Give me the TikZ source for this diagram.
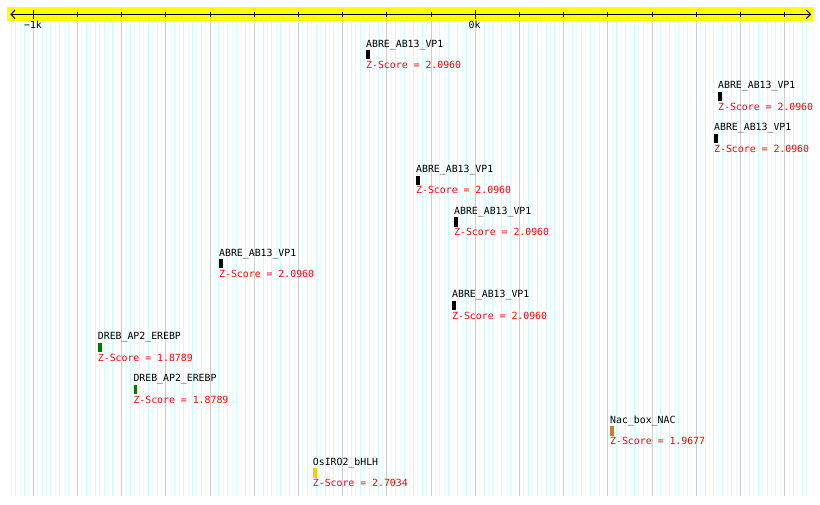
\documentclass[tikz,border=0pt]{standalone}
\usepackage{fontspec}
\newfontfamily\gbfont{DejaVu Sans Mono}
\definecolor{minorA}{HTML}{CCFCFF}
\definecolor{minorB}{HTML}{E4FDFF}
\definecolor{majorgrid}{HTML}{CCCCCC}
\definecolor{band}{HTML}{FFFF00}
\definecolor{dreb}{HTML}{007A00}
\definecolor{nac}{HTML}{CC7A33}
\definecolor{osiro}{HTML}{FFCC00}
\begin{document}
\begin{tikzpicture}[x=1pt,y=-1pt,
  txt/.style={font=\gbfont\fontsize{9.85}{11}\selectfont, inner sep=0pt},
  lbl/.style={txt, anchor=base west},
  zs/.style={txt, anchor=base west, text=red},
  barbox/.style={draw=none, inner sep=0pt, minimum height=9.3pt, anchor=north west},
  minorline/.style={line width=1pt},
  majorline/.style={line width=1pt, majorgrid},
  axisline/.style={line width=1pt, black}]
\useasboundingbox (0,0) rectangle (820,505);
\fill[white] (0,0) rectangle (820,505);
% grid
\foreach \i in {0,2,...,180}{
  \draw[minorline, minorB] ({11.2+4.42*\i},21) -- ({11.2+4.42*\i},495.5);
}
\foreach \i in {1,3,...,179}{
  \draw[minorline, minorA] ({11.2+4.42*\i},21) -- ({11.2+4.42*\i},495.5);
}
\foreach \k in {0,...,17}{
  \draw[majorline] ({33.3+44.2*\k},21) -- ({33.3+44.2*\k},495.5);
}
% axis band
\fill[band] (7,7) rectangle (813,21);
\coordinate (axL) at (11,14.3);
\coordinate (axR) at (810.5,14.3);
\draw[axisline] (axL) -- (axR);
\draw[axisline] (15,10) -- (axL) -- (15,18.6);
\draw[axisline] (806.3,10) -- (axR) -- (806.3,18.6);
\foreach \k in {0,...,17}{
  \draw[axisline] ({33.3+44.2*\k},12) -- ({33.3+44.2*\k},16.7);
}
\draw[axisline] (33.3,10) -- (33.3,19);
\draw[axisline] (475.3,10) -- (475.3,19);
\node[txt, anchor=north] (tickm1) at (33,20.5) {−1k};
\node[txt, anchor=north] (tick0) at (474.5,20.5) {0k};
% features
\foreach \xx/\k/\lab/\sc/\col/\w [count=\c] in {
  366/0/ABRE\_AB13\_VP1/2.0960/black/3.3,
  718/1/ABRE\_AB13\_VP1/2.0960/black/3.3,
  714/2/ABRE\_AB13\_VP1/2.0960/black/3.3,
  416/3/ABRE\_AB13\_VP1/2.0960/black/3.3,
  454/4/ABRE\_AB13\_VP1/2.0960/black/3.3,
  219/5/ABRE\_AB13\_VP1/2.0960/black/3.3,
  452/6/ABRE\_AB13\_VP1/2.0960/black/3.3,
  97.7/7/DREB\_AP2\_EREBP/1.8789/dreb/4.5,
  133.3/8/DREB\_AP2\_EREBP/1.8789/dreb/3.4,
  610/9/Nac\_box\_NAC/1.9677/nac/3.4,
  312.7/10/OsIRO2\_bHLH/2.7034/osiro/4}{
  \node[lbl] (lab\c) at (\xx,{41+41.8*\k+6.2}) {\lab};
  \node[barbox, fill=\col, minimum width=\w pt] (bar\c) at (\xx,{41+41.8*\k+9}) {};
  \node[zs] (z\c) at (\xx,{41+41.8*\k+27.6}) {Z-Score = \sc};
}
\end{tikzpicture}
\end{document}
